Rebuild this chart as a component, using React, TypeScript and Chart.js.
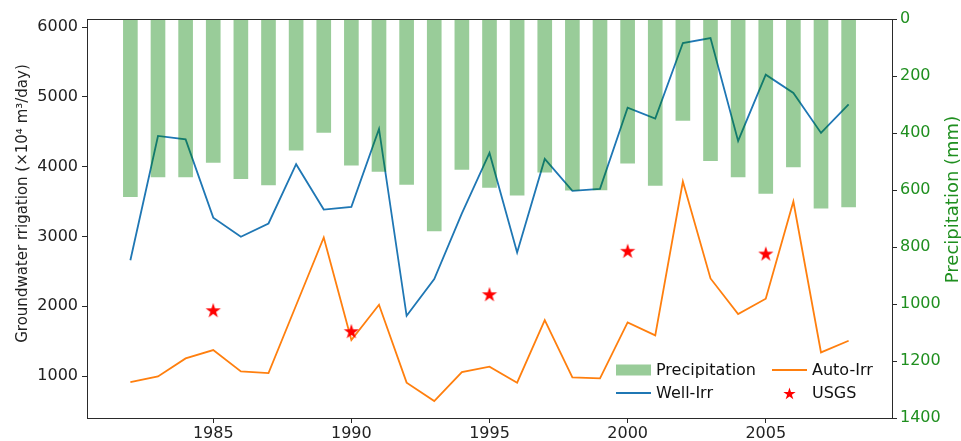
import React, { useEffect, useRef } from 'react';
import { Chart, registerables } from 'chart.js';

Chart.register(...registerables);

const years = [1982, 1983, 1984, 1985, 1986, 1987, 1988, 1989, 1990, 1991, 1992, 1993, 1994, 1995, 1996, 1997, 1998, 1999, 2000, 2001, 2002, 2003, 2004, 2005, 2006, 2007, 2008];
const precipitation = [623, 554, 554, 503, 560, 582, 460, 398, 513, 535, 580, 744, 528, 591, 618, 537, 601, 600, 506, 584, 356, 497, 554, 612, 519, 664, 659];
const wellIrr = [2660, 4440, 4390, 3270, 2995, 3186, 4035, 3386, 3424, 4540, 1864, 2389, 3330, 4197, 2771, 4111, 3653, 3682, 4846, 4688, 5771, 5843, 4369, 5318, 5056, 4483, 4893];
const autoIrr = [915, 996, 1254, 1373, 1068, 1044, 2015, 2985, 1516, 2022, 906, 643, 1058, 1135, 906, 1802, 982, 967, 1769, 1583, 3786, 2399, 1888, 2108, 3500, 1340, 1507];
const usgsYears = [1985, 1990, 1995, 2000, 2005];
const usgsValues = [1945, 1645, 2174, 2795, 2756];

const xTicks = [1985, 1990, 1995, 2000, 2005];
const leftTicks = [1000, 2000, 3000, 4000, 5000, 6000];
const rightTicks = [0, 200, 400, 600, 800, 1000, 1200, 1400];

const leftTitle = 'Groundwater rrigation (×10⁴ m³/day)';
const rightTitle = 'Precipitation (mm)';

const FONT = '"DejaVu Sans", sans-serif';
const GREEN_TEXT = '#1f8f1f';
const BAR_COLOR = 'rgba(0,128,0,0.4)';
const WELL_COLOR = '#1f77b4';
const AUTO_COLOR = '#ff7f0e';
const STAR_COLOR = '#ff0000';
const AXIS_COLOR = '#2a2a2a';

function drawStar(ctx: CanvasRenderingContext2D, cx: number, cy: number, R: number) {
  const r = R * 0.381966;
  ctx.beginPath();
  for (let i = 0; i < 10; i++) {
    const rad = i % 2 === 0 ? R : r;
    const a = -Math.PI / 2 + (i * Math.PI) / 5;
    const px = cx + rad * Math.cos(a);
    const py = cy + rad * Math.sin(a);
    if (i === 0) ctx.moveTo(px, py);
    else ctx.lineTo(px, py);
  }
  ctx.closePath();
  ctx.fillStyle = STAR_COLOR;
  ctx.fill();
}

function makeStarImage(R: number) {
  const c = document.createElement('canvas');
  const s = Math.ceil(R * 2 + 2);
  c.width = s;
  c.height = s;
  const ctx = c.getContext('2d')!;
  drawStar(ctx, s / 2, s / 2 + R * 0.1, R);
  return c;
}

const framePlugin = {
  id: 'frameAndExtras',
  afterDraw(chart: any) {
    const { ctx, chartArea: ca } = chart;
    ctx.save();
    // frame
    ctx.strokeStyle = AXIS_COLOR;
    ctx.lineWidth = 1;
    ctx.strokeRect(Math.round(ca.left) + 0.5, Math.round(ca.top) + 0.5, Math.round(ca.right - ca.left), Math.round(ca.bottom - ca.top));

    // axis titles
    const midY = (ca.top + ca.bottom) / 2 - 15;
    ctx.textBaseline = 'middle';
    ctx.textAlign = 'center';
    ctx.save();
    ctx.translate(23, midY);
    ctx.rotate(-Math.PI / 2);
    ctx.fillStyle = '#222';
    ctx.font = `15px ${FONT}`;
    ctx.fillText(leftTitle, 0, 0);
    ctx.restore();

    ctx.save();
    ctx.translate(ca.right + 61, midY - 4);
    ctx.rotate(-Math.PI / 2);
    ctx.fillStyle = GREEN_TEXT;
    ctx.font = `18px ${FONT}`;
    ctx.fillText(rightTitle, 0, 0);
    ctx.restore();

    // legend
    const ds = chart.data.datasets;
    const row1 = ca.bottom - 48;
    const row2 = ca.bottom - 25;
    const c1 = ca.right - 276;
    const c2 = ca.right - 120;
    const hw = 35;
    ctx.font = `16px ${FONT}`;
    ctx.textAlign = 'left';
    // Precipitation patch
    ctx.fillStyle = ds[0].backgroundColor;
    ctx.fillRect(c1, row1 - 5.5, hw, 11);
    ctx.fillStyle = '#111';
    ctx.fillText(ds[0].label, c1 + hw + 5, row1 + 1);
    // Well-Irr
    ctx.strokeStyle = ds[1].borderColor;
    ctx.lineWidth = 1.8;
    ctx.beginPath();
    ctx.moveTo(c1, row2);
    ctx.lineTo(c1 + hw, row2);
    ctx.stroke();
    ctx.fillText(ds[1].label, c1 + hw + 5, row2 + 1);
    // Auto-Irr
    ctx.strokeStyle = ds[2].borderColor;
    ctx.beginPath();
    ctx.moveTo(c2, row1);
    ctx.lineTo(c2 + hw, row1);
    ctx.stroke();
    ctx.fillText(ds[2].label, c2 + hw + 5, row1 + 1);
    // USGS
    drawStar(ctx, c2 + hw / 2, row2 + 1, 6.5);
    ctx.fillStyle = '#111';
    ctx.fillText(ds[3].label, c2 + hw + 5, row2 + 1);
    ctx.restore();
  },
};

export default function App() {
  const ref = useRef<HTMLCanvasElement | null>(null);
  useEffect(() => {
    document.body.style.margin = '0';
    if (!ref.current) return;
    const starImg = makeStarImage(8);
    const chart = new Chart(ref.current, {
      type: 'bar',
      data: {
        datasets: [
          {
            type: 'bar',
            label: 'Precipitation',
            data: years.map((y, i) => ({ x: y, y: precipitation[i] })),
            backgroundColor: BAR_COLOR,
            borderWidth: 0,
            barThickness: 14,
            yAxisID: 'y1',
            order: 0,
          } as any,
          {
            type: 'line',
            label: 'Well-Irr',
            data: years.map((y, i) => ({ x: y, y: wellIrr[i] })),
            borderColor: WELL_COLOR,
            borderWidth: 1.8,
            pointRadius: 0,
            tension: 0,
            yAxisID: 'y',
            order: 3,
          },
          {
            type: 'line',
            label: 'Auto-Irr',
            data: years.map((y, i) => ({ x: y, y: autoIrr[i] })),
            borderColor: AUTO_COLOR,
            borderWidth: 1.8,
            pointRadius: 0,
            tension: 0,
            yAxisID: 'y',
            order: 2,
          },
          {
            type: 'scatter',
            label: 'USGS',
            data: usgsYears.map((y, i) => ({ x: y, y: usgsValues[i] })),
            pointStyle: starImg as any,
            pointRadius: 8,
            backgroundColor: STAR_COLOR,
            showLine: false,
            yAxisID: 'y',
            order: 1,
          },
        ],
      },
      options: {
        animation: false,
        responsive: false,
        layout: { padding: { top: 19, left: 0, right: 0, bottom: 0 } },
        plugins: { legend: { display: false }, tooltip: { enabled: false } },
        scales: {
          x: {
            type: 'linear',
            offset: false,
            min: 1980.43,
            max: 2009.57,
            afterBuildTicks: (s: any) => {
              s.ticks = xTicks.map((v) => ({ value: v }));
            },
            afterFit: (s: any) => {
              s.height = 23;
            },
            ticks: {
              autoSkip: false,
              maxRotation: 0,
              padding: 1,
              color: '#222',
              font: { family: FONT, size: 16 },
              callback: (v: any) => String(v),
            },
            grid: { display: true, offset: false, drawOnChartArea: false, drawTicks: true, tickLength: 5, color: AXIS_COLOR },
            border: { display: false },
          },
          y: {
            type: 'linear',
            position: 'left',
            min: 400,
            max: 6115,
            afterBuildTicks: (s: any) => {
              s.ticks = leftTicks.map((v) => ({ value: v }));
            },
            afterFit: (s: any) => {
              s.width = 87;
            },
            ticks: {
              padding: 4,
              color: '#222',
              font: { family: FONT, size: 16 },
              callback: (v: any) => String(v),
            },
            grid: { display: true, drawOnChartArea: false, drawTicks: true, tickLength: 5, color: AXIS_COLOR },
            border: { display: false },
          },
          y1: {
            type: 'linear',
            position: 'right',
            min: 0,
            max: 1400,
            reverse: true,
            afterBuildTicks: (s: any) => {
              s.ticks = rightTicks.map((v) => ({ value: v }));
            },
            afterFit: (s: any) => {
              s.width = 69;
            },
            ticks: {
              padding: 3,
              color: GREEN_TEXT,
              font: { family: FONT, size: 16 },
              callback: (v: any) => String(v),
            },
            grid: { display: true, drawOnChartArea: false, drawTicks: true, tickLength: 5, color: AXIS_COLOR },
            border: { display: false },
          },
        },
      },
      plugins: [framePlugin],
    });
    return () => chart.destroy();
  }, []);
  return (
    <div style={{ width: 961, height: 441 }}>
      <canvas ref={ref} width={961} height={441} style={{ display: 'block' }} />
    </div>
  );
}
